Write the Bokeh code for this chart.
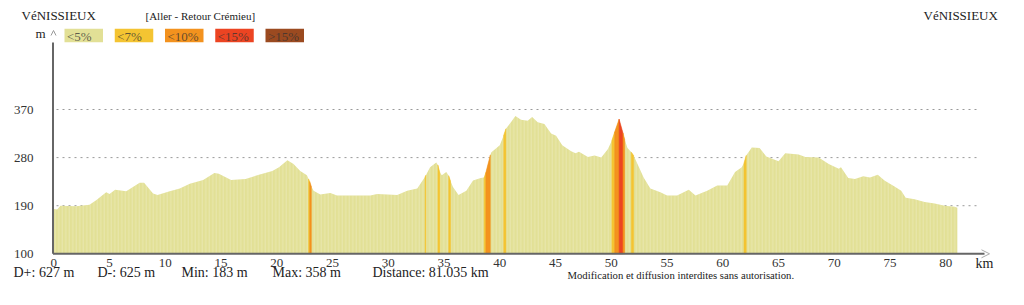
from bokeh.plotting import figure
from bokeh.models import Range1d, Arrow, OpenHead
from bokeh.core.properties import value
from bokeh.embed import file_html
from bokeh.resources import INLINE

# ---------------- data ----------------
km = [0.0, 0.3, 0.6, 2.0, 3.2, 3.8, 4.7, 5.0, 5.5, 6.5, 7.7, 8.1, 8.9, 9.3, 10.4, 11.3,
      12.2, 13.4, 14.4, 14.8, 15.9, 17.2, 18.4, 19.6, 20.2, 20.95, 21.5, 22.1, 22.7,
      22.85, 22.95, 23.1, 23.3, 23.9, 24.8, 25.4, 28.4, 29.0, 30.8, 31.7, 32.6, 33.3,
      33.37, 33.75, 34.3, 34.45, 34.62, 34.8, 35.2, 35.42, 35.58, 35.8, 36.3, 37.0, 37.6,
      38.3, 38.6, 38.75, 39.15, 39.25, 40.0, 40.35, 40.55, 41.0, 41.4, 41.9, 42.5, 42.9,
      43.4, 44.0, 44.6, 45.05, 45.6, 46.4, 46.8, 47.1, 47.9, 48.5, 49.1, 49.7, 50.05,
      50.3, 50.7, 51.05, 51.2, 51.45, 51.8, 52.0, 52.35, 52.9, 53.5, 54.4, 55.0, 55.9,
      56.95, 57.55, 58.6, 59.5, 60.4, 61.1, 61.7, 61.9, 62.1, 62.6, 63.3, 63.9, 65.0,
      65.6, 66.8, 67.4, 68.6, 69.5, 70.4, 70.6, 71.25, 71.85, 72.6, 73.2, 73.9, 74.5,
      75.4, 76.0, 76.4, 77.2, 78.1, 79.0, 79.9, 80.8, 81.035]
elev = [184, 183, 190, 189, 192, 200, 215, 212, 220, 217, 233, 233, 213, 210, 217, 222,
        231, 238, 251, 250, 238, 240, 248, 255, 262, 275, 268, 255, 247,
        240, 235, 226, 218, 211, 214, 209, 209, 212, 210, 218, 222, 244,
        247, 262, 271, 266, 252, 247, 253, 246, 236, 225, 210, 218, 237,
        242, 243, 252, 285, 290, 303, 322, 334, 346, 358, 351, 349, 356,
        346, 343, 325, 321, 303, 292, 288, 291, 281, 284, 280, 296, 312,
        328, 352, 326, 314, 298, 290, 284, 268, 243, 222, 215, 209, 209,
        220, 209, 218, 228, 228, 253, 262, 270, 284, 299, 298, 282, 273,
        288, 286, 281, 280, 268, 259, 262, 242, 240, 245, 243, 248, 237,
        226, 218, 205, 202, 197, 194, 190, 188, 186]

# steep sections (km from, km to, gradient class)
steep_from = [22.85, 22.95, 33.3, 34.45, 35.42, 38.6, 38.75, 40.35, 50.05, 50.3, 50.7, 51.05, 51.8, 61.9]
steep_to = [22.95, 23.1, 33.37, 34.62, 35.58, 38.75, 39.15, 40.55, 50.3, 50.7, 51.05, 51.2, 52.0, 62.1]
steep_class = ["<7%", "<10%", "<7%", "<7%", "<7%", "<7%", "<10%", "<7%", "<7%", "<10%", "<15%", "<10%", "<7%", "<7%"]

classes = ["<5%", "<7%", "<10%", "<15%", ">15%"]
class_colors = ["#e2e096", "#f4c432", "#f3921e", "#ec4422", "#9b4a20"]

y_ticks = [100, 190, 280, 370]
grid_ticks = [190, 280, 370]
x_ticks = list(range(0, 81, 5))

start_name = "VéNISSIEUX"
end_name = "VéNISSIEUX"
route = "[Aller - Retour Crémieu]"
stats = ["D+: 627 m", "D-: 625 m", "Min: 183 m", "Max: 358 m", "Distance: 81.035 km"]
notice = "Modification et diffusion interdites sans autorisation."

# ---------------- layout ----------------
W, H = 1024, 305
PX0, PY0 = 53.3, 253.3     # pixel position of (0 km, 100 m)
PXKM, PYM = 11.15, 0.5344  # pixels per km / per metre


def kx(px):
    return (px - PX0) / PXKM


def ey(py):
    return 100 + (PY0 - py) / PYM


SERIF = value("Liberation Serif")
BASE = 100

p = figure(width=W, height=H, x_range=Range1d(kx(0), kx(W)), y_range=Range1d(ey(H), ey(0)),
           min_border=0, toolbar_location=None, output_backend="svg",
           x_axis_location=None, y_axis_location=None,
           outline_line_color=None, background_fill_color="white",
           border_fill_color="white")
p.grid.visible = False

# grid lines (dotted)
p.segment(x0=kx(56), x1=kx(980), y0=grid_ticks, y1=grid_ticks,
          line_color="#9a9a9a", line_dash="2 4", line_width=1)

# profile (base class)
p.varea(x=km, y1=BASE, y2=elev, fill_color=class_colors[0],
        hatch_pattern="vertical_line", hatch_color="white", hatch_alpha=0.3,
        hatch_scale=3.5, hatch_weight=0.8)

# steep sections
color_of = dict(zip(classes, class_colors))
xs, ys, cs = [], [], []
for a, b, c in zip(steep_from, steep_to, steep_class):
    i0, i1 = km.index(a), km.index(b)
    seg_x = km[i0:i1 + 1]
    seg_y = elev[i0:i1 + 1]
    xs.append([seg_x[0]] + seg_x + [seg_x[-1]])
    ys.append([BASE] + seg_y + [BASE])
    cs.append(color_of[c])
p.patches(xs, ys, fill_color=cs, line_color=cs, line_width=0.5)

# axis lines
p.segment(x0=[kx(52.5), kx(52.5)], y0=[BASE, BASE], x1=[kx(984), kx(52.5)], y1=[BASE, ey(42)],
          line_color="#666666", line_width=2)
p.add_layout(Arrow(x_start=kx(975), y_start=BASE, x_end=kx(989), y_end=BASE,
                   end=OpenHead(size=8, line_color="#aaaaaa", line_width=1),
                   line_alpha=0))
p.add_layout(Arrow(x_start=kx(53), y_start=ey(40), x_end=kx(53), y_end=ey(30),
                   end=OpenHead(size=5, line_color="#999999", line_width=1),
                   line_alpha=0))

# tick labels
p.text(x=x_ticks, y=ey(262.5), text=[str(t) for t in x_ticks], text_font=SERIF,
       text_font_size="13px", text_color="#333333", text_align="center",
       text_baseline="middle")
p.text(x=kx(33), y=y_ticks, text=[str(t) for t in y_ticks], text_font=SERIF,
       text_font_size="13px", text_color="#333333", text_align="right",
       text_baseline="middle")


def lab(texts, pxs, py, size, color="#222222", alpha=1.0):
    p.text(x=[kx(v) for v in pxs], y=ey(py), text=texts, text_font=SERIF,
           text_font_size=size, text_color=color, text_alpha=alpha,
           text_align="left", text_baseline="middle")


lab([start_name, end_name], [21, 923], 15, "13px")
lab([route], [145], 15.5, "11px")
lab(["m"], [35], 33, "13px")
lab(["km"], [975], 263, "14px")

# legend
lefts = [64 + 50.25 * i for i in range(len(classes))]
p.quad(left=[kx(v) for v in lefts], right=[kx(v + 38.5) for v in lefts],
       top=ey(28.3), bottom=ey(41.7), fill_color=class_colors, line_color=None)
lab(classes, [v + 2.5 for v in lefts], 35.5, "13px", color="#333333", alpha=0.75)

# stats
lab(stats, [13, 97, 181, 272, 372], 272, "14px")
lab([notice], [567], 274, "10.7px")

open("out.html", "w").write(file_html(p, INLINE))
